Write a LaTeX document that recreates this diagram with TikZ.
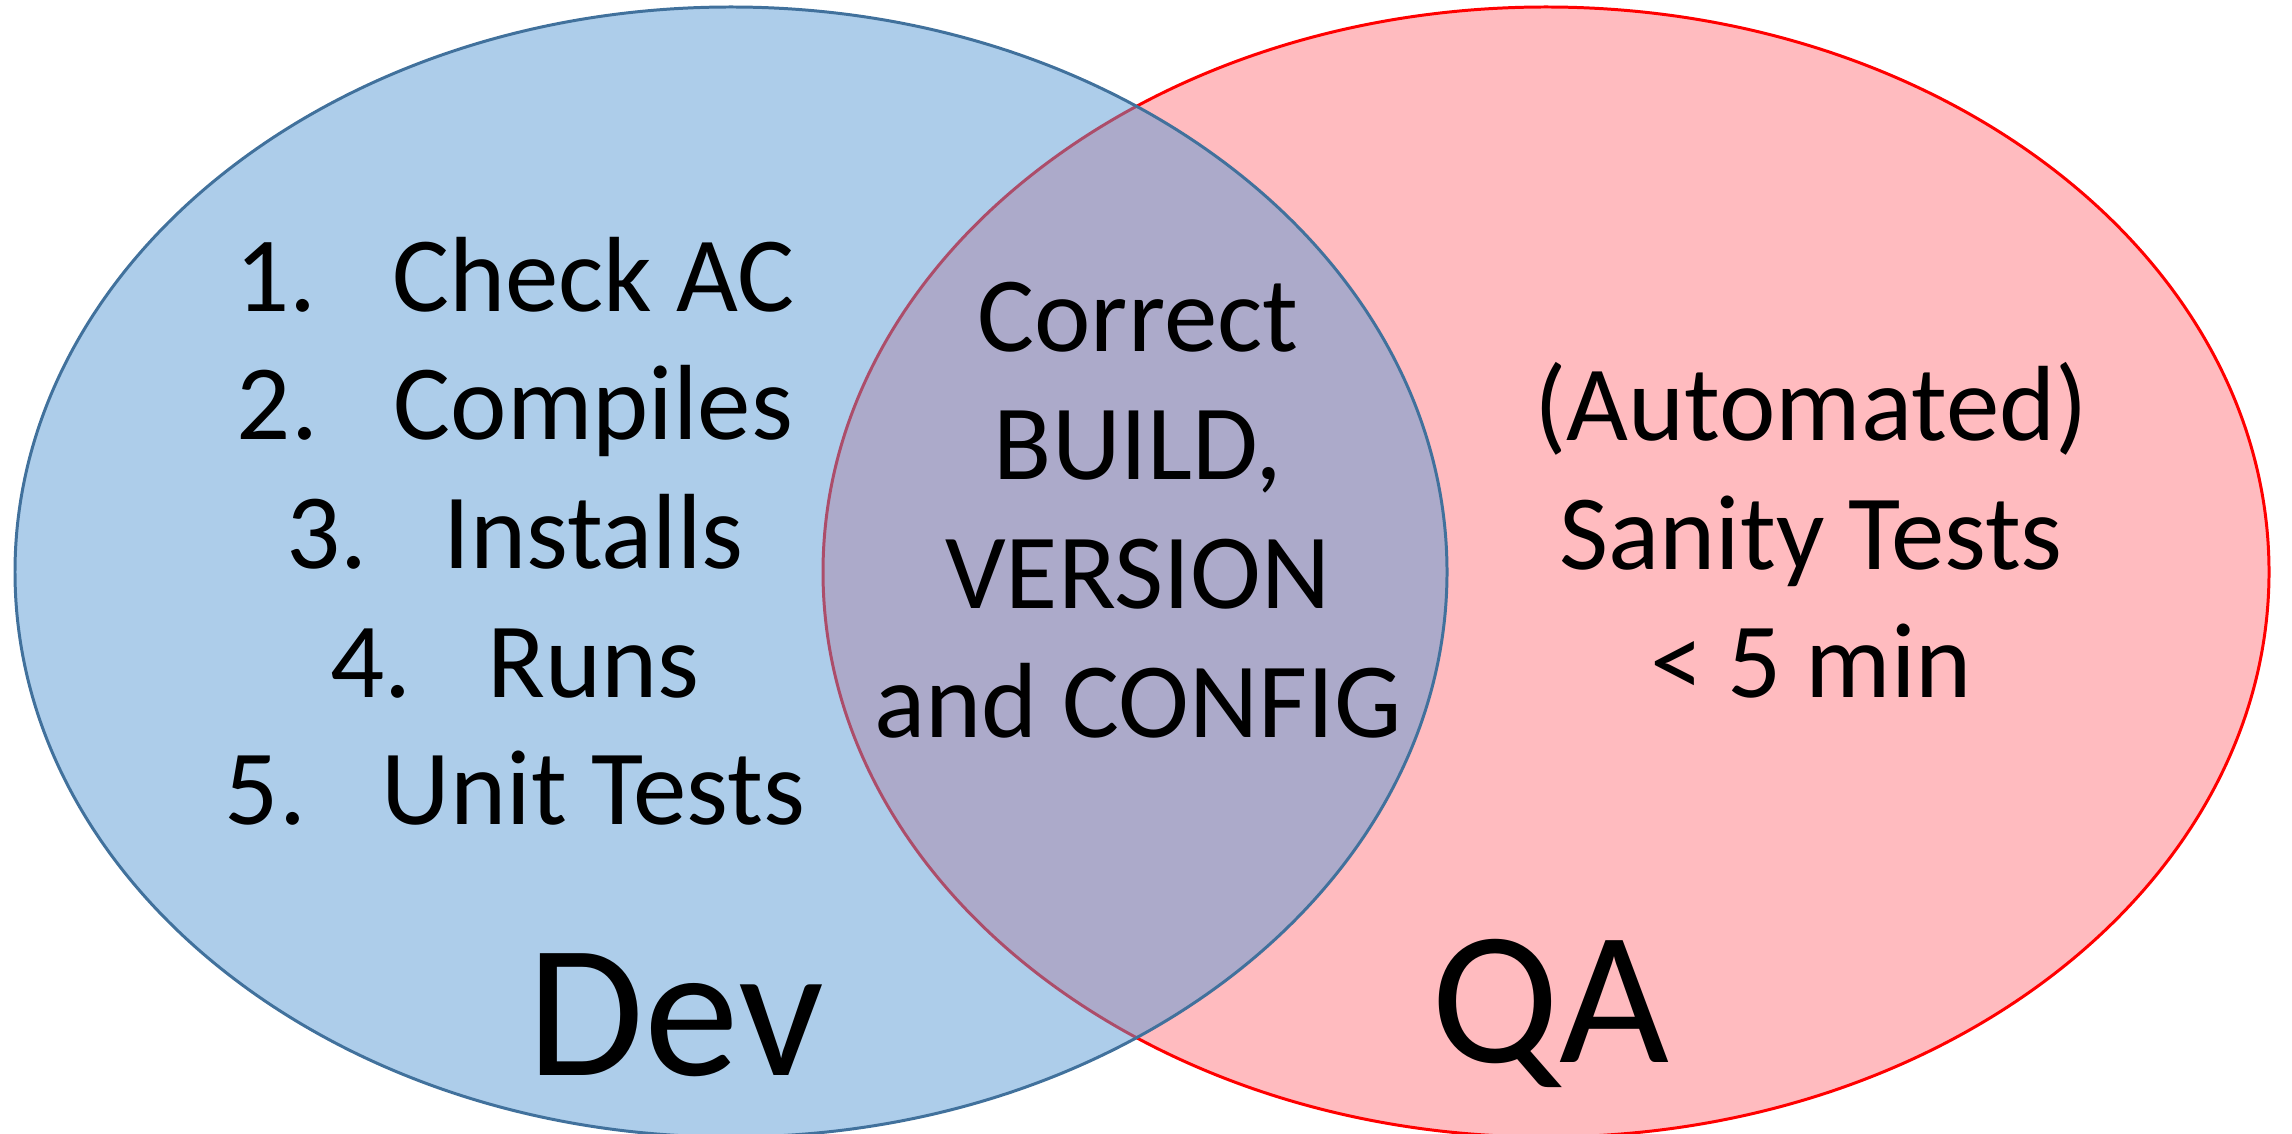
\documentclass[tikz,border=0pt]{standalone}
\usepackage{fontspec}
\setmainfont{Carlito}
\definecolor{devfill}{RGB}{91,155,213}
\definecolor{devline}{RGB}{65,113,156}
\definecolor{qafill}{RGB}{255,187,191}
\definecolor{qaline}{RGB}{255,0,0}
\newcommand{\numitem}[2]{\makebox[1.57cm][l]{#1}#2}
\begin{document}
\begin{tikzpicture}[x=0.01cm,y=-0.01cm,
  txt/.style={inner sep=0pt, anchor=base, font=\fontsize{30.4}{36.4}\selectfont},
  big/.style={inner sep=0pt, anchor=base, font=\fontsize{54}{60}\selectfont},
  devset/.style={line width=0.85pt, draw=devline, fill=devfill, fill opacity=0.5, draw opacity=1},
  qaset/.style={line width=0.85pt, draw=qaline, fill=qafill}]
\useasboundingbox (0,0) rectangle (2292,1134);
% QA circle (below)
\path[qaset] (1546,572) ellipse [x radius=723, y radius=565];
% Dev circle (on top, half transparent)
\path[devset] (731,572) ellipse [x radius=716, y radius=565];
% Dev list
\node[txt] (d1) at (515,312) {\numitem{1.}{Check AC}};
\node[txt] (d2) at (515,440) {\numitem{2.}{Compiles}};
\node[txt] (d3) at (515,568) {\numitem{3.}{Installs}};
\node[txt] (d4) at (515,697) {\numitem{4.}{Runs}};
\node[txt] (d5) at (515,824) {\numitem{5.}{Unit Tests}};
% centre
\node[txt] (c1) at (1138,352) {Correct};
\node[txt] (c2) at (1138,480) {BUILD,};
\node[txt] (c3) at (1138,608) {VERSION};
\node[txt] (c4) at (1138,737) {and CONFIG};
% QA text
\node[txt] (q1) at (1811,441) {(Automated)};
\node[txt] (q2) at (1811,569) {Sanity Tests};
\node[txt] (q3) at (1811,697) {< 5 min};
% labels
\node[big] (dev) at (676,1075) {Dev};
\node[big] (qa) at (1550,1062) {QA};
\end{tikzpicture}
\end{document}
